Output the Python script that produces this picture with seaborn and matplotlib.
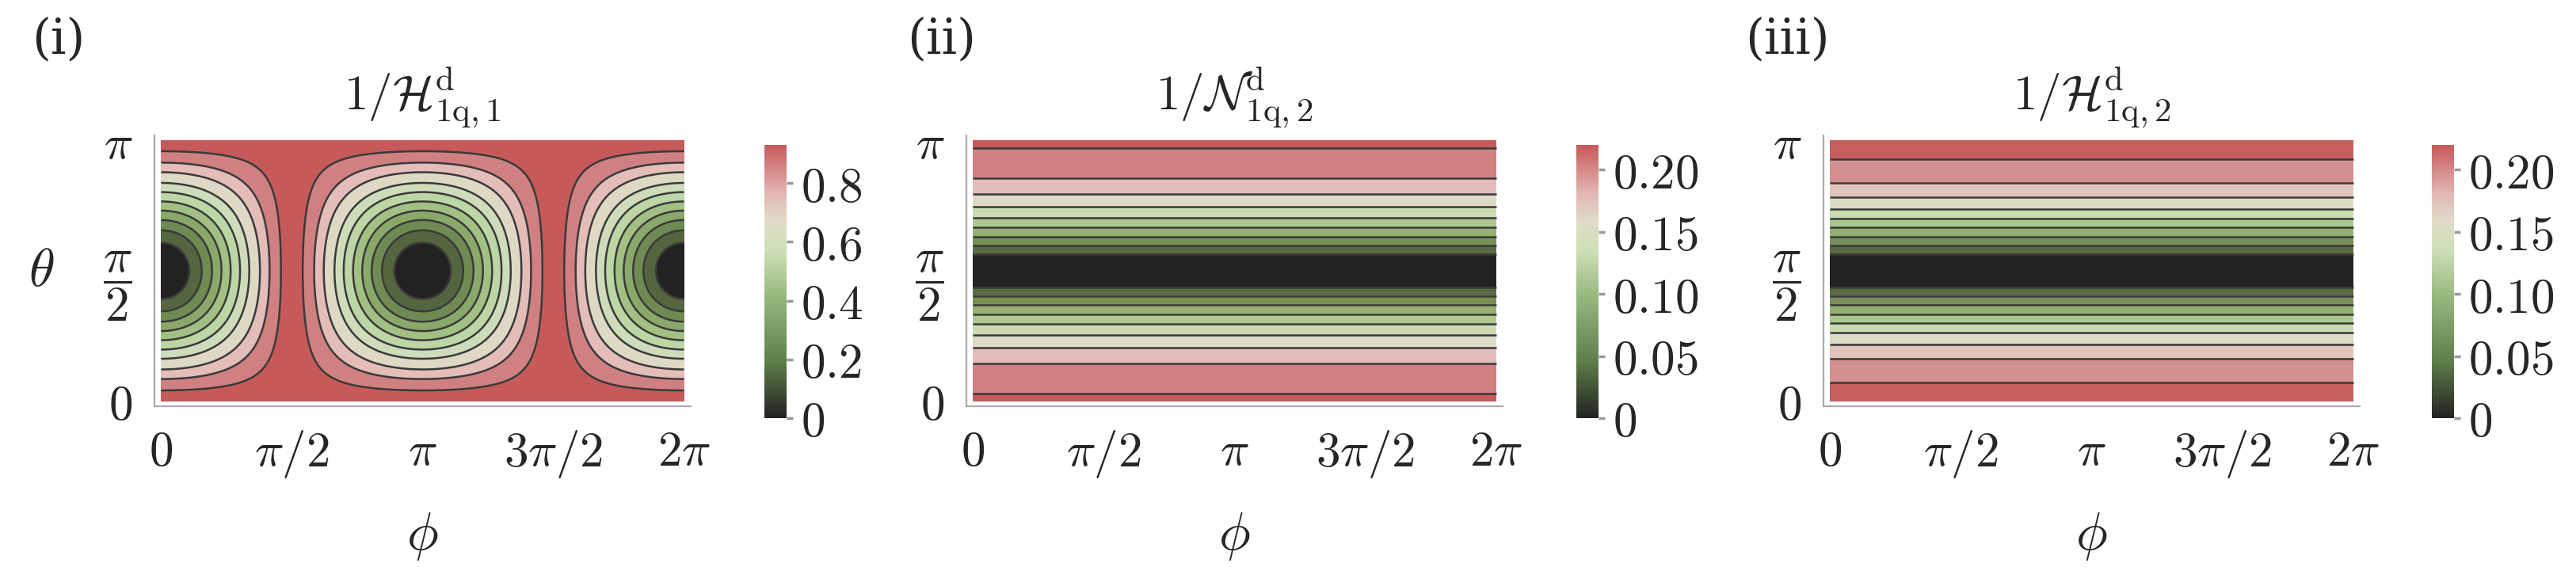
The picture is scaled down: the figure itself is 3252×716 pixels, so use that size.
import numpy as np
import matplotlib
matplotlib.use("Agg")
import matplotlib.pyplot as plt
import seaborn as sns
from matplotlib.colors import LinearSegmentedColormap

sns.set_theme(style="white")
plt.rcParams.update({
    "font.family": ["DejaVu Serif"],
    "mathtext.fontset": "cm",
    "font.size": 18,
})

# ── data ─────────────────────────────────────────────
panel_tags = ["(i)", "(ii)", "(iii)"]
panel_titles = [r"$1/\mathcal{H}^{\mathrm{d}}_{1\mathrm{q},1}$",
                r"$1/\mathcal{N}^{\mathrm{d}}_{1\mathrm{q},2}$",
                r"$1/\mathcal{H}^{\mathrm{d}}_{1\mathrm{q},2}$"]
phi_ticks = [0, np.pi / 2, np.pi, 3 * np.pi / 2, 2 * np.pi]
phi_labels = [r"$0$", r"$\pi/2$", r"$\pi$", r"$3\pi/2$", r"$2\pi$"]
theta_ticks = [0, np.pi / 2, np.pi]
theta_labels = [r"$0$", r"$\dfrac{\pi}{2}$", r"$\pi$"]

# peak values of each map (colorbar top)
vmax = [0.93, 0.22, 0.22]
frac_i = [0, 0.11, 0.22, 0.33, 0.44, 0.55, 0.66, 0.76, 0.86, 0.93, 0.983, 1.0]
frac_ii = [0, 0.2, 0.3, 0.4, 0.5, 0.6, 0.7, 0.8, 0.9, 0.996, 1.0]
frac_iii = [0, 0.2, 0.3, 0.4, 0.5, 0.59, 0.68, 0.775, 0.87, 0.975, 1.0]
# band fill colours, bottom band first
colors_i = ["#222222", "#55653f", "#6f8a52", "#8aa86a", "#a2c083", "#bcd6a5",
            "#cfdcbb", "#ddd9c5", "#e4bcb8", "#d08080", "#c65a5a"]
colors_ii = ["#222222", "#5a6a45", "#789050", "#95b070", "#b0c890", "#cbdab0",
             "#dddac5", "#e4bcbc", "#d08080", "#c65a5a"]
colors_iii = ["#222222", "#5a6a45", "#789058", "#90b070", "#a8c88c", "#c8dcb0",
              "#dcdcc4", "#e0c4bc", "#d49090", "#c65e5e"]
cbar_ticks = [[0, 0.2, 0.4, 0.6, 0.8],
              [0, 0.05, 0.10, 0.15, 0.20],
              [0, 0.05, 0.10, 0.15, 0.20]]
cbar_labels = [["0", "0.2", "0.4", "0.6", "0.8"],
               ["0", "0.05", "0.10", "0.15", "0.20"],
               ["0", "0.05", "0.10", "0.15", "0.20"]]

cmap = LinearSegmentedColormap.from_list(
    "rg", [(0, "#222222"), (0.2, "#5d7c48"), (0.45, "#98b980"),
           (0.62, "#cfe0b8"), (0.72, "#e0dcc8"), (0.82, "#e2b8b4"),
           (1.0, "#c65b5b")])

phi = np.linspace(0, 2 * np.pi, 500)
theta = np.linspace(0, np.pi, 400)
PHI, TH = np.meshgrid(phi, theta)
fields = [
    vmax[0] * (1 - (np.sin(TH) * np.cos(PHI)) ** 2),
    vmax[1] * np.abs(np.cos(TH)),
    vmax[2] * np.abs(np.cos(TH)),
]
fracs = [frac_i, frac_ii, frac_iii]
band_colors = [colors_i, colors_ii, colors_iii]

fig = plt.figure(figsize=(16.26, 3.58), dpi=200)
W, H = 3252, 716
ax_left = [195, 1220, 2302]
ax_w = 677
cb_left = [965, 1990, 3070]
tag_left = [40, 1145, 2203]


def frac(x0, y0, w, h):
    return [x0 / W, 1 - (y0 + h) / H, w / W, h / H]


for k in range(3):
    lv = [f * vmax[k] for f in fracs[k]]
    lv[-1] = vmax[k] * 1.001
    ax = fig.add_axes(frac(ax_left[k], 171, ax_w, 342))
    ax.contourf(PHI, TH, fields[k], levels=lv, colors=band_colors[k])
    ax.contour(PHI, TH, fields[k], levels=lv[1:-1], colors="#3a3a3a",
               linewidths=0.9)
    ax.set_xlim(-0.08, 2 * np.pi + 0.08)
    ax.set_ylim(-0.06, np.pi + 0.06)
    ax.set_xticks(phi_ticks, phi_labels)
    ax.set_yticks(theta_ticks, theta_labels)
    ax.tick_params(length=4, width=0.6, color="#999999", pad=6, labelsize=22)
    for s in ["top", "right"]:
        ax.spines[s].set_visible(False)
    for s in ["left", "bottom"]:
        ax.spines[s].set_color("#aaaaaa")
        ax.spines[s].set_linewidth(0.8)
    ax.set_xlabel(r"$\phi$", fontsize=24, labelpad=14)
    ax.set_title(panel_titles[k], fontsize=22, pad=12)
    if k == 0:
        ax.set_ylabel(r"$\theta$", fontsize=24, rotation=0, labelpad=28, va="center")
    fig.text(tag_left[k] / W, 1 - 50 / H, panel_tags[k], fontsize=22, va="center",
             family="DejaVu Serif", math_fontfamily="cm")

    cax = fig.add_axes(frac(cb_left[k], 183, 28, 345))
    sm = plt.cm.ScalarMappable(cmap=cmap, norm=plt.Normalize(0, vmax[k]))
    cb = fig.colorbar(sm, cax=cax)
    cb.set_ticks(cbar_ticks[k], labels=[f"${t}$" for t in cbar_labels[k]])
    cb.outline.set_visible(False)
    cax.tick_params(length=3, color="#999999", labelsize=22)

fig.savefig("out.png", dpi=200)
